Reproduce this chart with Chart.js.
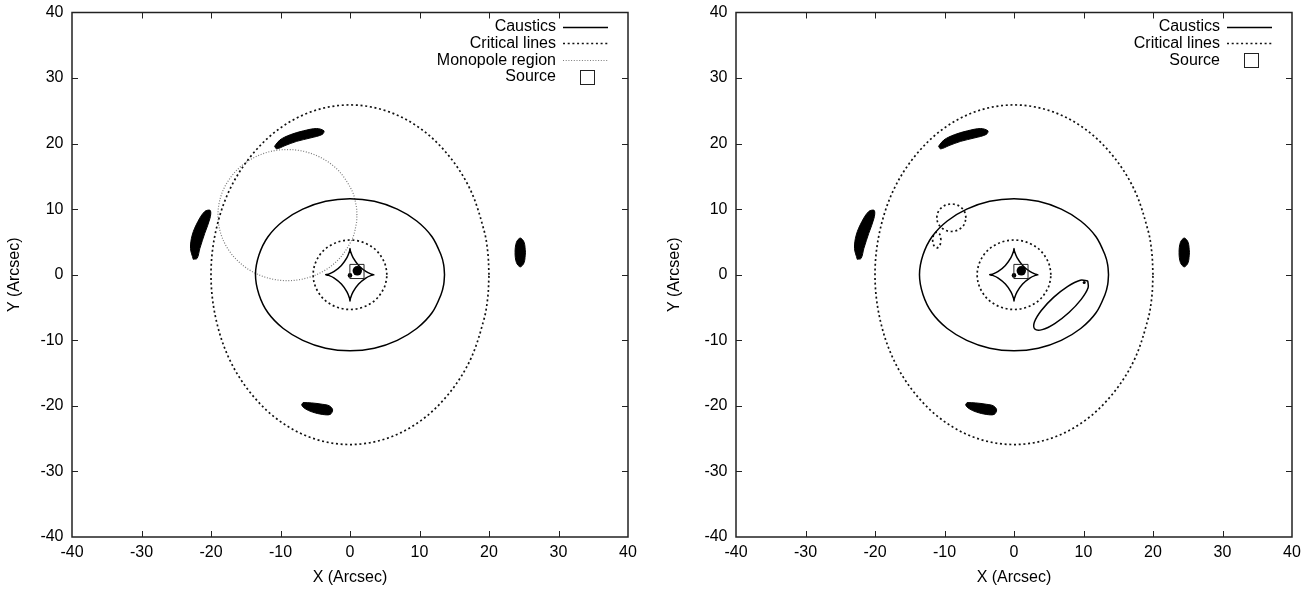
<!DOCTYPE html>
<html><head><meta charset="utf-8">
<script src="https://cdn.jsdelivr.net/npm/chart.js@4.4.1/dist/chart.umd.min.js"></script>
<style>
html,body{margin:0;padding:0;background:#fff;width:1310px;height:590px;overflow:hidden}
canvas{position:absolute;top:0}
#c1{left:0}
#c2{left:664px}
</style></head>
<body>
<canvas id="c1" width="655" height="590"></canvas>
<canvas id="c2" width="646" height="590"></canvas>
<script>
// ---------- data (arcsec) ----------
const axisTicks = [-40, -30, -20, -10, 0, 10, 20, 30, 40];
const axisTitles = ['X (Arcsec)', 'Y (Arcsec)'];
const legendLeft = ['Caustics', 'Critical lines', 'Monopole region', 'Source'];
const legendRight = ['Caustics', 'Critical lines', 'Source'];

const causticOuter = [[13.6,0],[13.48,1.51],[13.1,3.0],[11.8,5.8],[9.6,8.2],[6.8,10.0],[3.5,11.2],[0,11.6],[-3.5,11.2],[-6.8,10.0],[-9.6,8.2],[-11.8,5.8],[-13.1,3.0],[-13.6,0],[-13.1,-3.0],[-11.8,-5.8],[-9.6,-8.2],[-6.8,-10.0],[-3.5,-11.2],[0,-11.6],[3.5,-11.2],[6.8,-10.0],[9.6,-8.2],[11.8,-5.8],[13.1,-3.0],[13.48,-1.51],[13.6,0]];
const causticAstroid = [[3.5,0],[3.15,0.07],[2.27,0.5],[1.24,1.41],[0.44,2.6],[0.06,3.6],[0,4.0],[-0.06,3.6],[-0.44,2.6],[-1.24,1.41],[-2.27,0.5],[-3.15,0.07],[-3.5,0],[-3.15,-0.07],[-2.27,-0.5],[-1.24,-1.41],[-0.44,-2.6],[-0.06,-3.6],[0,-4.0],[0.06,-3.6],[0.44,-2.6],[1.24,-1.41],[2.27,-0.5],[3.15,-0.07],[3.5,0]];
const causticLoopRight = [[10.61,-0.92],[9.54,-0.83],[7.74,-1.76],[5.69,-3.45],[3.93,-5.45],[2.94,-7.22],[2.99,-8.28],[4.06,-8.37],[5.86,-7.44],[7.91,-5.75],[9.67,-3.75],[10.66,-1.99],[10.61,-0.92]];

const criticalOuter = [[20.0,0],[19.83,3.38],[19.3,6.7],[17.3,13.0],[14.1,18.3],[10.0,22.4],[5.2,25.0],[0,25.9],[-5.2,25.0],[-10.0,22.4],[-14.1,18.3],[-17.3,13.0],[-19.3,6.7],[-20.0,0],[-19.3,-6.7],[-17.3,-13.0],[-14.1,-18.3],[-10.0,-22.4],[-5.2,-25.0],[0,-25.9],[5.2,-25.0],[10.0,-22.4],[14.1,-18.3],[17.3,-13.0],[19.3,-6.7],[19.83,-3.38],[20.0,0]];
const criticalInner = [[5.3,0],[5.25,0.69],[4.9,2.0],[3.75,3.75],[2.0,4.9],[0,5.3],[-2.0,4.9],[-3.75,3.75],[-4.9,2.0],[-5.3,0],[-4.9,-2.0],[-3.75,-3.75],[-2.0,-4.9],[0,-5.3],[2.0,-4.9],[3.75,-3.75],[4.9,-2.0],[5.25,-0.69],[5.3,0]];
const criticalLoopA = [[-6.9,8.7],[-7.18,9.75],[-7.95,10.52],[-9.0,10.8],[-10.05,10.52],[-10.82,9.75],[-11.1,8.7],[-10.82,7.65],[-10.05,6.88],[-9.0,6.6],[-7.95,6.88],[-7.18,7.65],[-6.9,8.7]];
const criticalLoopB = [[-10.5,5.3],[-10.68,6.15],[-11.1,6.5],[-11.52,6.15],[-11.7,5.3],[-11.52,4.45],[-11.1,4.1],[-10.68,4.45],[-10.5,5.3]];

const monopoleRegion = [[1.0,9.1],[0.91,10.41],[0.24,12.93],[-1.93,16.17],[-5.17,18.34],[-9.0,19.1],[-12.83,18.34],[-16.07,16.17],[-18.24,12.93],[-19.0,9.1],[-18.24,5.27],[-16.07,2.03],[-12.83,-0.14],[-9.0,-0.9],[-5.17,-0.14],[-1.93,2.03],[0.24,5.27],[0.91,7.79],[1.0,9.1]];

const imageTop = [[-10.85,19.6],[-10.1,20.55],[-8.6,21.35],[-6.7,21.95],[-4.8,22.3],[-3.75,21.95],[-4.0,21.4],[-5.76,20.85],[-7.67,20.35],[-9.35,19.7],[-10.55,19.2],[-10.85,19.6]];
const imageLeft = [[-22.55,2.35],[-22.95,4.03],[-22.7,6.06],[-21.9,8.09],[-20.9,9.65],[-20.1,9.8],[-20.15,8.6],[-20.9,6.32],[-21.6,4.03],[-22.0,2.5],[-22.55,2.35]];
const imageRight = [[25.25,3.4],[25.05,4.95],[24.5,5.6],[23.95,4.95],[23.75,3.4],[23.95,1.85],[24.5,1.2],[25.05,1.85],[25.25,3.4]];
const imageBottom = [[-6.75,-19.5],[-5.5,-19.55],[-4.0,-19.75],[-2.95,-20.0],[-2.5,-20.6],[-2.85,-21.3],[-4.0,-21.3],[-5.4,-20.95],[-6.5,-20.4],[-6.95,-19.85],[-6.75,-19.5]];
const imageCentral = [[1.05,0.6],[0.0,-0.1]];
const imageSmallRight = [[10.1,-1.2]];
const sourcePos = [[1.0,0.5]];

// ---------- helpers ----------
const pts = arr => arr.map(([x, y]) => ({x, y}));
const FONT = '"Liberation Sans", Arial, Helvetica, sans-serif';
Chart.defaults.font.family = FONT;
Chart.defaults.font.size = 16;
Chart.defaults.color = '#000';

const solid = (d, label) => ({data: pts(d), legendText: label, showLine: true, borderColor: '#000', borderWidth: 1.5, borderDash: [], pointRadius: 0, tension: 0.34, fill: false});
const dotted = (d, label) => ({data: pts(d), legendText: label, showLine: true, borderColor: '#111', borderWidth: 1.7, borderDash: [2, 2.7], pointRadius: 0, tension: 0.34, fill: false});
const grayDotted = (d, label) => ({data: pts(d), legendText: label, showLine: true, borderColor: '#7a7a7a', borderWidth: 1.2, borderDash: [1, 1.7], pointRadius: 0, tension: 0.34, fill: false});
const blob = d => ({data: pts(d), showLine: true, fill: 'shape', backgroundColor: '#000', borderColor: '#000', borderWidth: 1, pointRadius: 0, tension: 0.34});
const dots = (d, r) => ({data: pts(d), showLine: false, pointRadius: r, pointBackgroundColor: '#000', pointBorderWidth: 0, pointBorderColor: '#000'});
const source = (d, label) => ({data: pts(d), legendText: label, showLine: false, pointStyle: 'rect', pointRadius: 10, pointBorderWidth: 1, pointBorderColor: '#222', pointBackgroundColor: 'rgba(0,0,0,0)'});

const gnuplotFrame = {
  id: 'gnuplotFrame',
  afterDraw(chart) {
    const {ctx, chartArea: a, scales: {x, y}} = chart;
    ctx.save();
    ctx.strokeStyle = '#222';
    ctx.lineWidth = 1;
    ctx.setLineDash([]);
    ctx.beginPath();
    axisTicks.forEach(v => {
      if (v === axisTicks[0] || v === axisTicks[axisTicks.length - 1]) return;
      const px = Math.round(x.getPixelForValue(v)) + 0.5;
      ctx.moveTo(px, a.bottom); ctx.lineTo(px, a.bottom - 6);
      ctx.moveTo(px, a.top); ctx.lineTo(px, a.top + 6);
      const py = Math.round(y.getPixelForValue(v)) + 0.5;
      ctx.moveTo(a.left, py); ctx.lineTo(a.left + 6, py);
      ctx.moveTo(a.right, py); ctx.lineTo(a.right - 6, py);
    });
    ctx.stroke();
    ctx.lineWidth = 1.5;
    ctx.strokeRect(a.left, a.top, a.right - a.left, a.bottom - a.top);

    // key (top right, gnuplot style)
    let row = 0;
    ctx.font = '16px ' + FONT;
    ctx.textAlign = 'right';
    ctx.textBaseline = 'middle';
    chart.data.datasets.forEach(ds => {
      if (!ds.legendText) return;
      const cy = a.top + 14 + row * 16.8;
      ctx.fillStyle = '#000';
      ctx.fillText(ds.legendText, a.right - 72, cy);
      if (ds.showLine) {
        ctx.setLineDash(ds.borderDash || []);
        ctx.lineWidth = ds.borderWidth;
        ctx.strokeStyle = ds.borderColor;
        ctx.beginPath();
        ctx.moveTo(a.right - 65, Math.round(cy) + 0.5);
        ctx.lineTo(a.right - 20, Math.round(cy) + 0.5);
        ctx.stroke();
      } else {
        ctx.setLineDash([]);
        ctx.lineWidth = 1;
        ctx.strokeStyle = ds.pointBorderColor;
        ctx.strokeRect(Math.round(a.right - 48) + 0.5, Math.round(cy - 7) + 0.5, 14, 14);
      }
      row++;
    });
    ctx.restore();
  }
};

function makeChart(id, datasets, yTitlePad, rightPad) {
  return new Chart(document.getElementById(id), {
    type: 'scatter',
    data: {datasets},
    options: {
      responsive: false, animation: false, devicePixelRatio: 1, events: [],
      layout: {padding: {left: 0, right: rightPad, top: 12.5, bottom: 0}},
      plugins: {legend: {display: false}, tooltip: {enabled: false}},
      scales: {
        x: {
          type: 'linear', min: -40, max: 40,
          afterBuildTicks: s => { s.ticks = axisTicks.map(v => ({value: v})); },
          ticks: {padding: 6, color: '#000', maxRotation: 0, autoSkip: false, font: {size: 16}},
          grid: {display: false, drawTicks: false, tickLength: 0},
          border: {display: false},
          title: {display: true, text: axisTitles[0], color: '#000', font: {size: 16}, padding: {top: 0, bottom: 2.4}},
          afterFit: s => { s.height = 53; s.paddingLeft = 0; s.paddingRight = 0; }
        },
        y: {
          type: 'linear', min: -40, max: 40,
          afterBuildTicks: s => { s.ticks = axisTicks.map(v => ({value: v})); },
          ticks: {padding: 8.5, color: '#000', autoSkip: false, font: {size: 16}},
          grid: {display: false, drawTicks: false, tickLength: 0},
          border: {display: false},
          title: {display: true, text: axisTitles[1], color: '#000', font: {size: 16}, padding: {top: yTitlePad, bottom: 0}},
          afterFit: s => { s.width = 72; s.paddingTop = 0; s.paddingBottom = 0; }
        }
      }
    },
    plugins: [gnuplotFrame]
  });
}

makeChart('c1', [
  solid(causticOuter, legendLeft[0]),
  dotted(criticalOuter, legendLeft[1]),
  grayDotted(monopoleRegion, legendLeft[2]),
  source(sourcePos, legendLeft[3]),
  solid(causticAstroid),
  dotted(criticalInner),
  blob(imageTop), blob(imageLeft), blob(imageRight), blob(imageBottom),
  dots(imageCentral, [4.7, 2.3])
], 5.4, 27);

makeChart('c2', [
  solid(causticOuter, legendRight[0]),
  dotted(criticalOuter, legendRight[1]),
  source(sourcePos, legendRight[2]),
  solid(causticAstroid),
  solid(causticLoopRight),
  dotted(criticalInner),
  dotted(criticalLoopA),
  dotted(criticalLoopB),
  blob(imageTop), blob(imageLeft), blob(imageRight), blob(imageBottom),
  dots(imageCentral, [4.7, 2.3]),
  dots(imageSmallRight, [1.5])
], 1.4, 18);
</script>
</body></html>
